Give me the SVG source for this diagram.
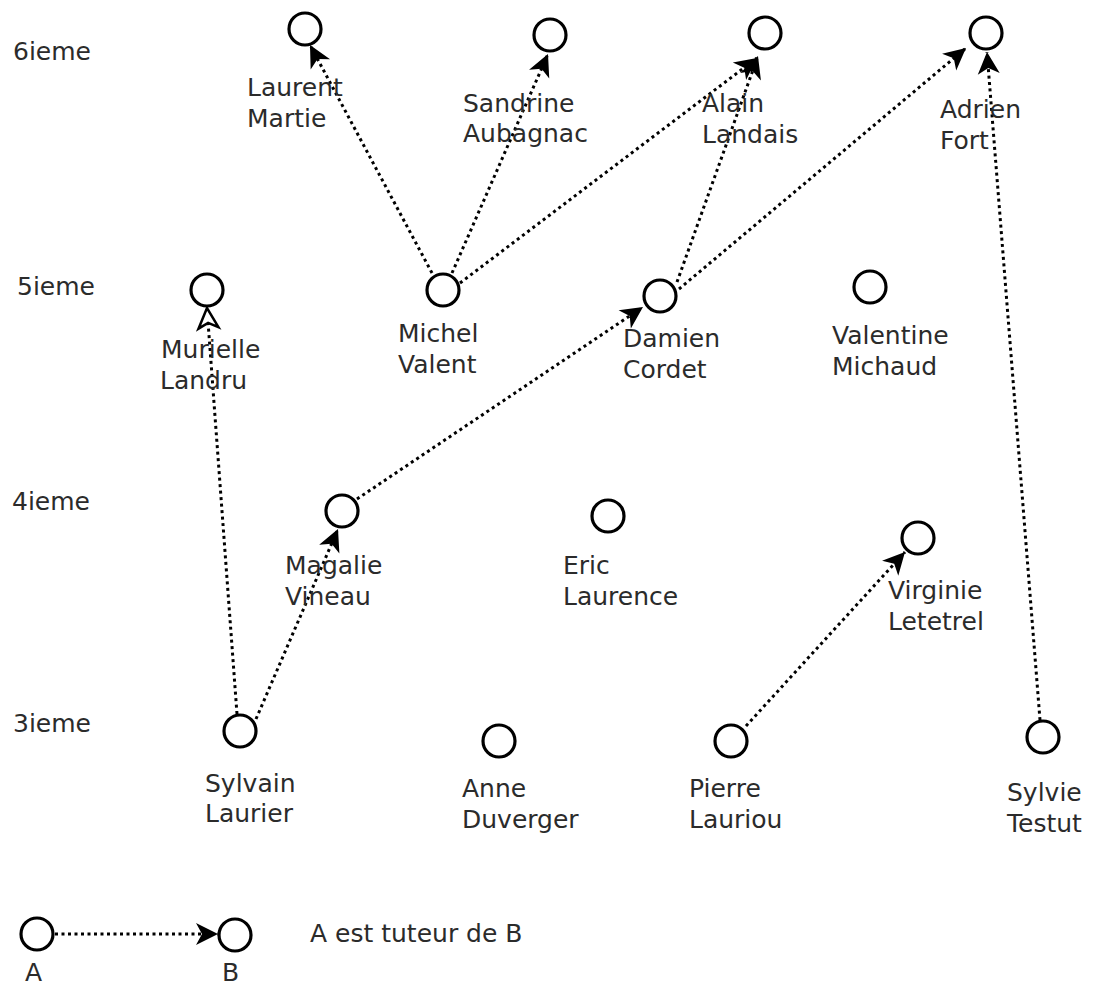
<svg xmlns="http://www.w3.org/2000/svg" width="1093" height="987" viewBox="0 0 1093 987">
<style>
.n{fill:#fff;stroke:#000;stroke-width:3.2}
text{font-family:"DejaVu Sans","Liberation Sans",sans-serif;font-size:25px;fill:#2b2b2b}
.e{stroke:#000;stroke-width:3;stroke-dasharray:3 3.5;fill:none;marker-end:url(#ah)}
.eo{stroke:#000;stroke-width:3;stroke-dasharray:3 3.5;fill:none;marker-end:url(#aho)}
</style>
<defs>
<marker id="ah" markerUnits="userSpaceOnUse" markerWidth="24" markerHeight="24" refX="22" refY="11" orient="auto" overflow="visible">
<path d="M22,11 L0,0 L6,11 L0,22 Z" fill="#000"/>
</marker>
<marker id="aho" markerUnits="userSpaceOnUse" markerWidth="24" markerHeight="24" refX="22" refY="11" orient="auto" overflow="visible">
<path d="M22,11 L2,1 L7,11 L2,21 Z" fill="#fff" stroke="#000" stroke-width="2.5"/>
</marker>
</defs>
<rect width="1093" height="987" fill="#fff"/>
<g id="rows">
<text x="13" y="60">6ieme</text>
<text x="17" y="295">5ieme</text>
<text x="12" y="510">4ieme</text>
<text x="13" y="732">3ieme</text>
</g>
<g id="connectors">
<line class="e" x1="432" y1="273" x2="310" y2="45"/>
<line class="e" x1="452" y1="273" x2="548" y2="54"/>
<line class="e" x1="460" y1="283" x2="757" y2="58"/>
<line class="e" x1="677" y1="282" x2="758" y2="56"/>
<line class="e" x1="679" y1="289" x2="966" y2="48"/>
<line class="e" x1="1040" y1="720" x2="987" y2="52"/>
<line class="eo" x1="237" y1="714" x2="207" y2="308"/>
<line class="e" x1="256" y1="719" x2="338" y2="529"/>
<line class="e" x1="357" y1="499" x2="643" y2="307"/>
<line class="e" x1="746" y1="726" x2="905" y2="552"/>
<line class="e" x1="55" y1="934" x2="218" y2="934"/>
</g>
<g id="laurent-martie"><circle class="n" cx="305" cy="29" r="16"/><text x="247" y="96">Laurent</text><text x="247" y="127">Martie</text></g>
<g id="sandrine-aubagnac"><circle class="n" cx="550" cy="35" r="16"/><text x="463" y="112">Sandrine</text><text x="463" y="142">Aubagnac</text></g>
<g id="alain-landais"><circle class="n" cx="765" cy="33" r="16"/><text x="702" y="112">Alain</text><text x="702" y="143">Landais</text></g>
<g id="adrien-fort"><circle class="n" cx="986" cy="33" r="16"/><text x="940" y="118">Adrien</text><text x="940" y="149">Fort</text></g>
<g id="muriel-landru"><circle class="n" cx="207" cy="290" r="16"/><text x="161" y="358">Murielle</text><text x="160" y="389">Landru</text></g>
<g id="michel-valent"><circle class="n" cx="443" cy="290" r="16"/><text x="398" y="342">Michel</text><text x="398" y="373">Valent</text></g>
<g id="damien-cordet"><circle class="n" cx="660" cy="296" r="16"/><text x="623" y="347">Damien</text><text x="623" y="378">Cordet</text></g>
<g id="valentine-michaud"><circle class="n" cx="870" cy="287" r="16"/><text x="832" y="344">Valentine</text><text x="832" y="375">Michaud</text></g>
<g id="magalie-vineau"><circle class="n" cx="342" cy="511" r="16"/><text x="285" y="574">Magalie</text><text x="285" y="605">Vineau</text></g>
<g id="eric-laurence"><circle class="n" cx="608" cy="516" r="16"/><text x="563" y="574">Eric</text><text x="563" y="605">Laurence</text></g>
<g id="virginie-letetrel"><circle class="n" cx="918" cy="538" r="16"/><text x="888" y="599">Virginie</text><text x="888" y="630">Letetrel</text></g>
<g id="sylvain-laurier"><circle class="n" cx="240" cy="731" r="16"/><text x="205" y="792">Sylvain</text><text x="205" y="822">Laurier</text></g>
<g id="anne-duverger"><circle class="n" cx="499" cy="741" r="16"/><text x="462" y="797">Anne</text><text x="462" y="828">Duverger</text></g>
<g id="pierre-lauriou"><circle class="n" cx="731" cy="741" r="16"/><text x="689" y="797">Pierre</text><text x="689" y="828">Lauriou</text></g>
<g id="sylvie-testut"><circle class="n" cx="1043" cy="737" r="16"/><text x="1007" y="801">Sylvie</text><text x="1007" y="832">Testut</text></g>
<g id="legend-a"><circle class="n" cx="37" cy="934" r="16"/><text x="25" y="981">A</text></g>
<g id="legend-b"><circle class="n" cx="235" cy="935" r="16"/><text x="222" y="981">B</text></g>
<g id="legend-text"><text x="310" y="942">A est tuteur de B</text></g>
</svg>
